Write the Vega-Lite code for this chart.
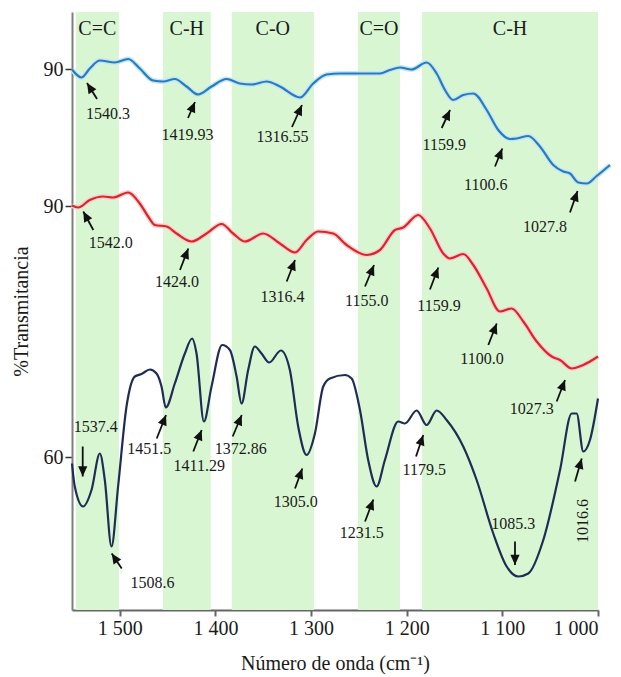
{
  "$schema": "https://vega.github.io/schema/vega-lite/v6.json",
  "width": 526,
  "height": 598,
  "autosize": {"type": "none"},
  "padding": {"left": 72, "top": 12, "right": 23, "bottom": 67},
  "background": "white",
  "config": {
    "view": {"stroke": null},
    "font": "Liberation Serif",
    "text": {"font": "Liberation Serif", "color": "#1a1a1a"},
    "axis": {
      "grid": false,
      "labelFont": "Liberation Serif", "labelFontSize": 20, "labelColor": "#1a1a1a",
      "titleFont": "Liberation Serif", "titleFontSize": 20, "titleFontWeight": "normal", "titleColor": "#1a1a1a"
    },
    "axisX": {
      "domainColor": "#666666", "domainWidth": 2,
      "tickColor": "#666666", "tickWidth": 2, "tickSize": 6,
      "labelPadding": 2,
      "titleY": 53, "titleBaseline": "middle"
    },
    "axisY": {
      "domainColor": "#7f7f7f", "domainWidth": 2,
      "tickColor": "#333333", "tickWidth": 1.5, "tickSize": 7,
      "labelPadding": 2,
      "titleX": -45, "titleY": 299, "titleAngle": -90, "titleAlign": "center", "titleBaseline": "alphabetic"
    }
  },
  "datasets": {
    "bandas": [
      {"grupo": "C=C", "a": 1546, "b": 1501},
      {"grupo": "C-H", "a": 1455, "b": 1405},
      {"grupo": "C-O", "a": 1383, "b": 1297},
      {"grupo": "C=O", "a": 1251, "b": 1207},
      {"grupo": "C-H", "a": 1184, "b": 1000}
    ],
    "espectros": [
      {"s": "s1", "wn": 1550.0, "t": 137.5},
      {"s": "s1", "wn": 1540.0, "t": 135.9},
      {"s": "s1", "wn": 1531.4, "t": 137.7},
      {"s": "s1", "wn": 1520.9, "t": 139.3},
      {"s": "s1", "wn": 1505.2, "t": 138.9},
      {"s": "s1", "wn": 1491.3, "t": 139.6},
      {"s": "s1", "wn": 1479.1, "t": 137.7},
      {"s": "s1", "wn": 1465.2, "t": 135.3},
      {"s": "s1", "wn": 1454.7, "t": 135.1},
      {"s": "s1", "wn": 1442.5, "t": 135.6},
      {"s": "s1", "wn": 1430.2, "t": 134.1},
      {"s": "s1", "wn": 1418.1, "t": 132.5},
      {"s": "s1", "wn": 1404.1, "t": 134.1},
      {"s": "s1", "wn": 1388.4, "t": 135.6},
      {"s": "s1", "wn": 1374.5, "t": 134.7},
      {"s": "s1", "wn": 1362.2, "t": 134.5},
      {"s": "s1", "wn": 1346.5, "t": 135.1},
      {"s": "s1", "wn": 1332.6, "t": 134.1},
      {"s": "s1", "wn": 1311.7, "t": 131.9},
      {"s": "s1", "wn": 1297.8, "t": 134.7},
      {"s": "s1", "wn": 1283.8, "t": 136.5},
      {"s": "s1", "wn": 1269.9, "t": 136.7},
      {"s": "s1", "wn": 1228.0, "t": 136.7},
      {"s": "s1", "wn": 1217.6, "t": 137.4},
      {"s": "s1", "wn": 1207.1, "t": 137.9},
      {"s": "s1", "wn": 1194.9, "t": 137.5},
      {"s": "s1", "wn": 1179.2, "t": 138.9},
      {"s": "s1", "wn": 1168.7, "t": 136.7},
      {"s": "s1", "wn": 1160.0, "t": 133.4},
      {"s": "s1", "wn": 1151.4, "t": 131.4},
      {"s": "s1", "wn": 1140.9, "t": 132.4},
      {"s": "s1", "wn": 1130.4, "t": 132.7},
      {"s": "s1", "wn": 1116.4, "t": 129.4},
      {"s": "s1", "wn": 1104.3, "t": 125.4},
      {"s": "s1", "wn": 1092.0, "t": 123.6},
      {"s": "s1", "wn": 1085.0, "t": 123.7},
      {"s": "s1", "wn": 1072.9, "t": 124.2},
      {"s": "s1", "wn": 1060.7, "t": 122.1},
      {"s": "s1", "wn": 1046.8, "t": 118.4},
      {"s": "s1", "wn": 1036.3, "t": 117.1},
      {"s": "s1", "wn": 1029.3, "t": 116.7},
      {"s": "s1", "wn": 1020.6, "t": 114.9},
      {"s": "s1", "wn": 1011.8, "t": 114.7},
      {"s": "s1", "wn": 1001.4, "t": 116.2},
      {"s": "s1", "wn": 987.4, "t": 118.4},

      {"s": "s2", "wn": 1550.0, "t": 110.3},
      {"s": "s2", "wn": 1543.6, "t": 109.9},
      {"s": "s2", "wn": 1531.4, "t": 111.4},
      {"s": "s2", "wn": 1517.5, "t": 112.1},
      {"s": "s2", "wn": 1507.0, "t": 111.9},
      {"s": "s2", "wn": 1491.3, "t": 112.9},
      {"s": "s2", "wn": 1479.1, "t": 110.7},
      {"s": "s2", "wn": 1470.4, "t": 108.1},
      {"s": "s2", "wn": 1463.4, "t": 106.4},
      {"s": "s2", "wn": 1451.1, "t": 106.1},
      {"s": "s2", "wn": 1440.7, "t": 104.7},
      {"s": "s2", "wn": 1425.0, "t": 103.1},
      {"s": "s2", "wn": 1409.3, "t": 104.7},
      {"s": "s2", "wn": 1393.6, "t": 106.6},
      {"s": "s2", "wn": 1381.5, "t": 104.7},
      {"s": "s2", "wn": 1369.2, "t": 103.1},
      {"s": "s2", "wn": 1350.1, "t": 104.7},
      {"s": "s2", "wn": 1332.6, "t": 102.7},
      {"s": "s2", "wn": 1316.9, "t": 100.9},
      {"s": "s2", "wn": 1304.7, "t": 103.4},
      {"s": "s2", "wn": 1292.6, "t": 105.1},
      {"s": "s2", "wn": 1276.9, "t": 104.7},
      {"s": "s2", "wn": 1262.9, "t": 102.4},
      {"s": "s2", "wn": 1241.9, "t": 100.4},
      {"s": "s2", "wn": 1228.0, "t": 101.4},
      {"s": "s2", "wn": 1212.3, "t": 105.4},
      {"s": "s2", "wn": 1203.7, "t": 105.9},
      {"s": "s2", "wn": 1188.0, "t": 108.4},
      {"s": "s2", "wn": 1175.7, "t": 105.7},
      {"s": "s2", "wn": 1161.8, "t": 100.7},
      {"s": "s2", "wn": 1154.8, "t": 99.7},
      {"s": "s2", "wn": 1140.9, "t": 100.6},
      {"s": "s2", "wn": 1130.4, "t": 98.4},
      {"s": "s2", "wn": 1116.4, "t": 93.7},
      {"s": "s2", "wn": 1102.5, "t": 89.1},
      {"s": "s2", "wn": 1090.3, "t": 89.7},
      {"s": "s2", "wn": 1078.1, "t": 87.1},
      {"s": "s2", "wn": 1064.1, "t": 83.1},
      {"s": "s2", "wn": 1048.4, "t": 80.1},
      {"s": "s2", "wn": 1039.7, "t": 79.4},
      {"s": "s2", "wn": 1027.5, "t": 77.7},
      {"s": "s2", "wn": 1015.4, "t": 78.4},
      {"s": "s2", "wn": 1000.0, "t": 80.1},

      {"s": "s3", "wn": 1550.0, "t": 58.7},
      {"s": "s3", "wn": 1547.1, "t": 54.1},
      {"s": "s3", "wn": 1538.4, "t": 50.1},
      {"s": "s3", "wn": 1529.6, "t": 53.4},
      {"s": "s3", "wn": 1520.9, "t": 60.7},
      {"s": "s3", "wn": 1515.7, "t": 55.4},
      {"s": "s3", "wn": 1508.7, "t": 42.1},
      {"s": "s3", "wn": 1501.8, "t": 54.1},
      {"s": "s3", "wn": 1493.0, "t": 70.1},
      {"s": "s3", "wn": 1484.3, "t": 76.1},
      {"s": "s3", "wn": 1477.3, "t": 76.6},
      {"s": "s3", "wn": 1468.6, "t": 77.5},
      {"s": "s3", "wn": 1461.6, "t": 76.7},
      {"s": "s3", "wn": 1456.4, "t": 74.1},
      {"s": "s3", "wn": 1451.9, "t": 69.9},
      {"s": "s3", "wn": 1442.5, "t": 74.7},
      {"s": "s3", "wn": 1432.0, "t": 80.7},
      {"s": "s3", "wn": 1424.4, "t": 83.7},
      {"s": "s3", "wn": 1419.8, "t": 80.7},
      {"s": "s3", "wn": 1412.1, "t": 67.1},
      {"s": "s3", "wn": 1404.1, "t": 74.1},
      {"s": "s3", "wn": 1393.0, "t": 82.4},
      {"s": "s3", "wn": 1384.9, "t": 81.4},
      {"s": "s3", "wn": 1377.9, "t": 76.1},
      {"s": "s3", "wn": 1372.7, "t": 70.7},
      {"s": "s3", "wn": 1365.8, "t": 77.4},
      {"s": "s3", "wn": 1358.8, "t": 82.1},
      {"s": "s3", "wn": 1351.8, "t": 80.7},
      {"s": "s3", "wn": 1343.8, "t": 78.9},
      {"s": "s3", "wn": 1331.6, "t": 81.3},
      {"s": "s3", "wn": 1322.2, "t": 77.4},
      {"s": "s3", "wn": 1313.5, "t": 66.1},
      {"s": "s3", "wn": 1304.7, "t": 60.4},
      {"s": "s3", "wn": 1296.0, "t": 64.7},
      {"s": "s3", "wn": 1287.3, "t": 74.1},
      {"s": "s3", "wn": 1280.3, "t": 75.7},
      {"s": "s3", "wn": 1264.6, "t": 76.4},
      {"s": "s3", "wn": 1257.6, "t": 75.7},
      {"s": "s3", "wn": 1248.9, "t": 69.4},
      {"s": "s3", "wn": 1240.3, "t": 59.4},
      {"s": "s3", "wn": 1231.5, "t": 54.1},
      {"s": "s3", "wn": 1222.8, "t": 59.4},
      {"s": "s3", "wn": 1208.9, "t": 67.1},
      {"s": "s3", "wn": 1201.9, "t": 66.7},
      {"s": "s3", "wn": 1189.6, "t": 69.3},
      {"s": "s3", "wn": 1179.2, "t": 66.4},
      {"s": "s3", "wn": 1168.7, "t": 69.3},
      {"s": "s3", "wn": 1158.3, "t": 67.4},
      {"s": "s3", "wn": 1140.9, "t": 62.1},
      {"s": "s3", "wn": 1126.9, "t": 55.4},
      {"s": "s3", "wn": 1109.5, "t": 44.7},
      {"s": "s3", "wn": 1095.5, "t": 38.1},
      {"s": "s3", "wn": 1083.4, "t": 36.1},
      {"s": "s3", "wn": 1072.9, "t": 36.7},
      {"s": "s3", "wn": 1057.2, "t": 43.4},
      {"s": "s3", "wn": 1039.7, "t": 57.4},
      {"s": "s3", "wn": 1027.5, "t": 68.7},
      {"s": "s3", "wn": 1022.3, "t": 68.7},
      {"s": "s3", "wn": 1015.4, "t": 61.1},
      {"s": "s3", "wn": 1008.4, "t": 63.4},
      {"s": "s3", "wn": 1000.0, "t": 71.7}
    ],
    "picos": [
      {"s": "s1", "lab": "1540.3", "lx": 1512.3, "ly": 128.6, "tx": 1523.8, "ty": 131.6, "hx": 1534.3, "hy": 134.8},
      {"s": "s1", "lab": "1419.93", "lx": 1429.2, "ly": 124.4, "tx": 1428.7, "ty": 127.8, "hx": 1421.4, "hy": 131.0},
      {"s": "s1", "lab": "1316.55", "lx": 1329.9, "ly": 124.0, "tx": 1320.0, "ty": 126.0, "hx": 1309.5, "hy": 130.4},
      {"s": "s1", "lab": "1159.9", "lx": 1160.8, "ly": 122.4, "tx": 1163.4, "ty": 125.8, "hx": 1154.7, "hy": 129.4},
      {"s": "s1", "lab": "1100.6", "lx": 1117.3, "ly": 114.4, "tx": 1107.7, "ty": 118.1, "hx": 1100.1, "hy": 121.7},
      {"s": "s1", "lab": "1027.8", "lx": 1055.4, "ly": 106.0, "tx": 1029.3, "ty": 108.9, "hx": 1021.4, "hy": 113.2},
      {"s": "s2", "lab": "1542.0", "lx": 1509.4, "ly": 102.9, "tx": 1527.7, "ty": 105.4, "hx": 1538.2, "hy": 109.1},
      {"s": "s2", "lab": "1424.0", "lx": 1440.2, "ly": 95.1, "tx": 1437.1, "ty": 97.4, "hx": 1428.4, "hy": 101.7},
      {"s": "s2", "lab": "1316.4", "lx": 1329.9, "ly": 92.1, "tx": 1325.5, "ty": 95.1, "hx": 1316.8, "hy": 99.4},
      {"s": "s2", "lab": "1155.0", "lx": 1241.8, "ly": 91.3, "tx": 1243.6, "ty": 94.1, "hx": 1234.2, "hy": 98.4},
      {"s": "s2", "lab": "1159.9", "lx": 1166.3, "ly": 90.2, "tx": 1175.7, "ty": 93.5, "hx": 1167.0, "hy": 97.9},
      {"s": "s2", "lab": "1100.0", "lx": 1121.3, "ly": 79.7, "tx": 1114.7, "ty": 82.4, "hx": 1105.9, "hy": 86.7},
      {"s": "s2", "lab": "1027.3", "lx": 1069.3, "ly": 69.6, "tx": 1043.2, "ty": 71.1, "hx": 1034.5, "hy": 75.4},
      {"s": "s3", "lab": "1537.4", "lx": 1525.1, "ly": 66.0, "tx": 1538.8, "ty": 62.1, "hx": 1538.8, "hy": 56.1},
      {"s": "s3", "lab": "1508.6", "lx": 1465.8, "ly": 34.9, "tx": 1498.0, "ty": 37.7, "hx": 1508.5, "hy": 40.7},
      {"s": "s3", "lab": "1451.5", "lx": 1469.3, "ly": 61.7, "tx": 1461.4, "ty": 63.7, "hx": 1451.7, "hy": 68.4},
      {"s": "s3", "lab": "1411.29", "lx": 1417.0, "ly": 58.2, "tx": 1423.2, "ty": 61.1, "hx": 1414.4, "hy": 65.4},
      {"s": "s3", "lab": "1372.86", "lx": 1373.5, "ly": 61.7, "tx": 1382.0, "ty": 64.1, "hx": 1372.5, "hy": 68.4},
      {"s": "s3", "lab": "1305.0", "lx": 1316.0, "ly": 51.1, "tx": 1316.8, "ty": 53.7, "hx": 1309.2, "hy": 57.7},
      {"s": "s3", "lab": "1231.5", "lx": 1247.1, "ly": 44.9, "tx": 1243.6, "ty": 47.1, "hx": 1234.9, "hy": 51.5},
      {"s": "s3", "lab": "1179.5", "lx": 1181.7, "ly": 57.5, "tx": 1190.3, "ty": 60.1, "hx": 1182.7, "hy": 64.4},
      {"s": "s3", "lab": "1085.3", "lx": 1088.6, "ly": 46.7, "tx": 1086.8, "ty": 43.1, "hx": 1086.8, "hy": 38.4},
      {"s": "s3", "lab": "1016.6", "lx": 1015.4, "ly": 47.2, "tx": 1024.0, "ty": 55.1, "hx": 1017.0, "hy": 59.7}
    ]
  },
  "layer": [
    {
      "data": {"name": "bandas"},
      "mark": {"type": "rect", "color": "#d9f6d2"},
      "encoding": {
        "x": {"field": "a", "type": "quantitative", "scale": {"domain": [1550, 1000], "nice": false, "zero": false}, "title": "Número de onda (cm⁻¹)"},
        "x2": {"field": "b"}
      }
    },
    {
      "data": {"name": "bandas"},
      "transform": [{"calculate": "(datum.a + datum.b) / 2", "as": "centro"}],
      "mark": {"type": "text", "fontSize": 20, "align": "center", "baseline": "middle"},
      "encoding": {
        "x": {"field": "centro", "type": "quantitative", "scale": {"domain": [1550, 1000], "nice": false, "zero": false}, "title": "Número de onda (cm⁻¹)"},
        "y": {"datum": 145.6, "type": "quantitative", "scale": {"domain": [29.4, 149], "nice": false, "zero": false}, "title": "%Transmitancia"},
        "text": {"field": "grupo"}
      }
    },
    {
      "data": {"name": "espectros"},
      "transform": [{"filter": "datum.s === 's1'"}],
      "mark": {"type": "line", "interpolate": "monotone", "strokeWidth": 5, "color": "#c4e7f6", "clip": false},
      "encoding": {
        "x": {"field": "wn", "type": "quantitative", "scale": {"domain": [1550, 1000], "nice": false, "zero": false}, "title": "Número de onda (cm⁻¹)"},
        "y": {"field": "t", "type": "quantitative", "scale": {"domain": [29.4, 149], "nice": false, "zero": false}, "title": "%Transmitancia"}
      }
    },
    {
      "data": {"name": "espectros"},
      "transform": [{"filter": "datum.s === 's2'"}],
      "mark": {"type": "line", "interpolate": "monotone", "strokeWidth": 5, "color": "#f8d0d0", "clip": false},
      "encoding": {
        "x": {"field": "wn", "type": "quantitative", "scale": {"domain": [1550, 1000], "nice": false, "zero": false}, "title": "Número de onda (cm⁻¹)"},
        "y": {"field": "t", "type": "quantitative", "scale": {"domain": [29.4, 149], "nice": false, "zero": false}, "title": "%Transmitancia"}
      }
    },
    {
      "data": {"name": "espectros"},
      "mark": {"type": "line", "interpolate": "monotone", "strokeWidth": 2.2, "clip": false},
      "encoding": {
        "x": {
          "field": "wn", "type": "quantitative",
          "scale": {"domain": [1550, 1000], "nice": false, "zero": false},
          "title": "Número de onda (cm⁻¹)",
          "axis": {
            "values": [1500, 1400, 1300, 1200, 1100, 1000],
            "labelExpr": "replace(format(datum.value, ','), ',', ' ')"
          }
        },
        "y": {
          "field": "t", "type": "quantitative",
          "scale": {"domain": [29.4, 149], "nice": false, "zero": false},
          "title": "%Transmitancia",
          "axis": {
            "values": [60, 110.2, 137.6],
            "labelExpr": "datum.value < 80 ? '60' : '90'"
          }
        },
        "color": {
          "field": "s", "type": "nominal",
          "scale": {"domain": ["s1", "s2", "s3"], "range": ["#2a7bb8", "#d8262c", "#1f2c55"]},
          "legend": null
        }
      }
    },
    {
      "data": {"name": "picos"},
      "mark": {"type": "rule", "color": "#111111", "strokeWidth": 1.8},
      "encoding": {
        "x": {"field": "tx", "type": "quantitative", "scale": {"domain": [1550, 1000], "nice": false, "zero": false}, "title": "Número de onda (cm⁻¹)"},
        "y": {"field": "ty", "type": "quantitative", "scale": {"domain": [29.4, 149], "nice": false, "zero": false}, "title": "%Transmitancia"},
        "x2": {"field": "hx"},
        "y2": {"field": "hy"}
      }
    },
    {
      "data": {"name": "picos"},
      "transform": [
        {"calculate": "atan2(-(datum.hx - datum.tx) * 0.9564, (datum.hy - datum.ty) * 5) * 180 / PI", "as": "giro"}
      ],
      "mark": {"type": "point", "shape": "M0,0L-0.45,1L0.45,1Z", "filled": true, "color": "#111111", "opacity": 1, "size": 420},
      "encoding": {
        "x": {"field": "hx", "type": "quantitative", "scale": {"domain": [1550, 1000], "nice": false, "zero": false}, "title": "Número de onda (cm⁻¹)"},
        "y": {"field": "hy", "type": "quantitative", "scale": {"domain": [29.4, 149], "nice": false, "zero": false}, "title": "%Transmitancia"},
        "angle": {"field": "giro", "type": "quantitative", "scale": null}
      }
    },
    {
      "data": {"name": "picos"},
      "transform": [{"filter": "datum.lab !== '1016.6'"}],
      "mark": {"type": "text", "fontSize": 16, "align": "center", "baseline": "middle"},
      "encoding": {
        "x": {"field": "lx", "type": "quantitative", "scale": {"domain": [1550, 1000], "nice": false, "zero": false}, "title": "Número de onda (cm⁻¹)"},
        "y": {"field": "ly", "type": "quantitative", "scale": {"domain": [29.4, 149], "nice": false, "zero": false}, "title": "%Transmitancia"},
        "text": {"field": "lab"}
      }
    },
    {
      "data": {"name": "picos"},
      "transform": [{"filter": "datum.lab === '1016.6'"}],
      "mark": {"type": "text", "fontSize": 16, "align": "center", "baseline": "middle", "angle": 270},
      "encoding": {
        "x": {"field": "lx", "type": "quantitative", "scale": {"domain": [1550, 1000], "nice": false, "zero": false}, "title": "Número de onda (cm⁻¹)"},
        "y": {"field": "ly", "type": "quantitative", "scale": {"domain": [29.4, 149], "nice": false, "zero": false}, "title": "%Transmitancia"},
        "text": {"field": "lab"}
      }
    }
  ]
}
